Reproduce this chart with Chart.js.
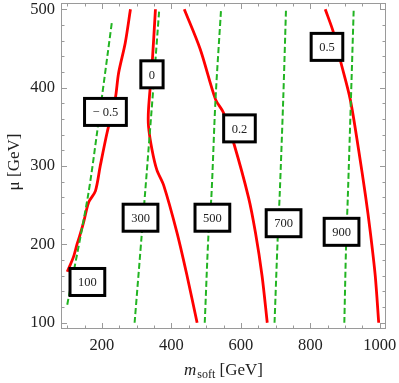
<!DOCTYPE html>
<html>
<head>
<meta charset="utf-8">
<script src="https://cdn.jsdelivr.net/npm/chart.js@4.4.1/dist/chart.umd.min.js"></script>
<style>
  html, body { margin: 0; padding: 0; background: #fff; }
  #wrap { width: 399px; height: 383px; }
</style>
</head>
<body>
<div id="wrap"><canvas id="contour"></canvas></div>
<script>
// axis ranges (with Mathematica's 2% padding) and tick values
const xRange = [82, 1018];
const yRange = [92, 508];
const xTicks = [200, 400, 600, 800, 1000];
const yTicks = [100, 200, 300, 400, 500];
const xMinorTicks = [100, 150, 250, 300, 350, 450, 500, 550, 650, 700, 750, 850, 900, 950];
const yMinorTicks = [120, 140, 160, 180, 220, 240, 260, 280, 320, 340, 360, 380, 420, 440, 460, 480];

// red contours, [m_soft, mu]
const redNeg05 = [[100,165],[118,184],[128,200],[136,211],[147,228],[162,254],[181,268],[195,300],[215,343],[238,385],[248,419],[267,457],[282,500]];
const redZero = [[354,500],[344,427],[334,372],[334,351],[344,321],[358,295],[378,275],[416,215],[445,160],[474,100]];
const red02 = [[437,500],[483,449],[527,385],[550,368],[579,330],[622,260],[642,215],[661,160],[676,100]];
const red05 = [[843,500],[867,470],[887,434],[915,385],[939,321],[959,262],[973,215],[987,160],[997,100]];

// green dashed contours
const green100 = [[100,123],[159,260],[186,343],[229,485]];
const green300 = [[294,100],[315,215],[325,270],[349,406],[365,500]];
const green500 = [[496,100],[507,215],[515,260],[527,385],[543,500]];
const green700 = [[697,100],[706,207],[712,265],[722,385],[730,500]];
const green900 = [[898,100],[903,198],[908,260],[917,385],[925,500]];

// contour labels
const labelText = ["\u2212 0.5", "0", "0.2", "0.5", "100", "300", "500", "700", "900"];
const labelX = [210, 344, 596, 848, 158, 311, 518, 723, 890];
const labelY = [369, 417, 348, 452, 152, 234, 234, 227, 216];

const toPts = arr => arr.map(p => ({ x: p[0], y: p[1] }));

function redLine(arr) {
  return { data: toPts(arr), borderColor: "#ff0000", borderWidth: 2.8, pointRadius: 0, showLine: true, tension: 0.3, fill: false };
}
function greenLine(arr) {
  return { data: toPts(arr), borderColor: "#22b422", borderWidth: 2, borderDash: [6, 3], pointRadius: 0, showLine: true, tension: 0.3, fill: false };
}

const frameColor = "#9a9a9a";
const serif = "'Liberation Serif', 'DejaVu Serif', serif";

// frame, inward ticks, axis titles
const framePlugin = {
  id: "frame",
  afterDraw(chart) {
    const ctx = chart.ctx;
    const a = chart.chartArea;
    const xs = chart.scales.x, ys = chart.scales.y;
    ctx.save();
    ctx.strokeStyle = frameColor;
    ctx.lineWidth = 1;
    ctx.strokeRect(a.left + 0.5, a.top + 0.5, a.right - a.left - 1, a.bottom - a.top - 1);
    ctx.beginPath();
    function xt(v, len) {
      const px = Math.round(xs.getPixelForValue(v)) + 0.5;
      ctx.moveTo(px, a.bottom); ctx.lineTo(px, a.bottom - len);
      ctx.moveTo(px, a.top); ctx.lineTo(px, a.top + len);
    }
    function yt(v, len) {
      const py = Math.round(ys.getPixelForValue(v)) + 0.5;
      ctx.moveTo(a.left, py); ctx.lineTo(a.left + len, py);
      ctx.moveTo(a.right, py); ctx.lineTo(a.right - len, py);
    }
    xTicks.forEach(v => xt(v, 6));
    xMinorTicks.forEach(v => xt(v, 3.5));
    yTicks.forEach(v => yt(v, 6));
    yMinorTicks.forEach(v => yt(v, 3.5));
    ctx.stroke();

    // x title: m_soft [GeV]
    ctx.fillStyle = "#222";
    ctx.textBaseline = "alphabetic";
    ctx.textAlign = "left";
    const big = "17px " + serif, small = "12px " + serif;
    ctx.font = "italic " + big;
    const wm = ctx.measureText("m").width;
    ctx.font = small;
    const ws = ctx.measureText("soft").width;
    ctx.font = big;
    const wg = ctx.measureText(" [GeV]").width;
    let x0 = 223 - (wm + ws + wg) / 2;
    ctx.font = "italic " + big; ctx.fillText("m", x0, 375);
    ctx.font = small; ctx.fillText("soft", x0 + wm + 1, 378);
    ctx.font = big; ctx.fillText(" [GeV]", x0 + wm + ws + 1, 375);

    // y title: mu [GeV]
    ctx.translate(19, 162);
    ctx.rotate(-Math.PI / 2);
    ctx.textAlign = "center";
    ctx.font = big;
    ctx.fillText("\u03bc [GeV]", 0, 0);
    ctx.restore();
  }
};

// boxed contour labels
const labelPlugin = {
  id: "contourLabels",
  afterDatasetsDraw(chart) {
    const ctx = chart.ctx;
    const xs = chart.scales.x, ys = chart.scales.y;
    ctx.save();
    ctx.font = "12.5px " + serif;
    ctx.textAlign = "center";
    ctx.textBaseline = "middle";
    labelText.forEach((t, i) => {
      const cx = xs.getPixelForValue(labelX[i]);
      const cy = ys.getPixelForValue(labelY[i]);
      const w = ctx.measureText(t).width + 16;
      const h = 27;
      ctx.fillStyle = "#fff";
      ctx.fillRect(cx - w / 2, cy - h / 2, w, h);
      ctx.strokeStyle = "#000";
      ctx.lineWidth = 3;
      ctx.strokeRect(cx - w / 2, cy - h / 2, w, h);
      ctx.fillStyle = "#222";
      ctx.fillText(t, cx, cy + 1);
    });
    ctx.restore();
  }
};

new Chart(document.getElementById("contour"), {
  type: "scatter",
  data: {
    datasets: [
      greenLine(green100), greenLine(green300), greenLine(green500), greenLine(green700), greenLine(green900),
      redLine(redNeg05), redLine(redZero), redLine(red02), redLine(red05)
    ]
  },
  options: {
    responsive: true,
    maintainAspectRatio: false,
    animation: false,
    layout: { padding: { top: 3, right: 13, left: 0, bottom: 0 } },
    plugins: { legend: { display: false }, tooltip: { enabled: false } },
    scales: {
      x: {
        type: "linear",
        min: xRange[0], max: xRange[1],
        grid: { display: false, drawTicks: false },
        border: { display: false },
        afterBuildTicks: s => { s.ticks = xTicks.map(v => ({ value: v })); },
        afterFit: s => { s.height = 54; s.paddingLeft = 0; s.paddingRight = 0; },
        ticks: { color: "#222", padding: 7, maxRotation: 0, font: { family: serif, size: 16.5 }, callback: v => String(v) }
      },
      y: {
        type: "linear",
        min: yRange[0], max: yRange[1],
        grid: { display: false, drawTicks: false },
        border: { display: false },
        afterBuildTicks: s => { s.ticks = yTicks.map(v => ({ value: v })); },
        afterFit: s => { s.width = 61; s.paddingTop = 0; s.paddingBottom = 0; },
        ticks: { color: "#222", padding: 6, font: { family: serif, size: 16.5 }, callback: v => String(v) }
      }
    }
  },
  plugins: [framePlugin, labelPlugin]
});
</script>
</body>
</html>
